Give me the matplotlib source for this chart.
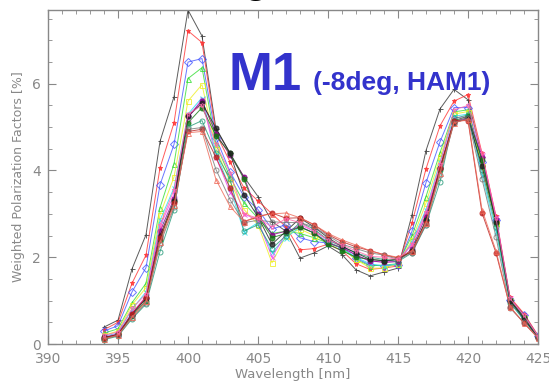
import matplotlib
matplotlib.use("Agg")
import matplotlib.pyplot as plt
from matplotlib.ticker import MultipleLocator

# wavelength grid [nm]
wavelength = list(range(394, 426))

# weighted polarization factors [%], one list per curve
s_black = [0.39, 0.55, 1.73, 2.52, 4.67, 5.70, 7.70, 7.10, 4.95, 4.40, 3.85, 3.40, 2.82, 2.60, 1.98, 2.10,
           2.26, 2.06, 1.71, 1.57, 1.66, 1.75, 2.98, 4.46, 5.42, 5.87, 5.63, 4.30, 2.90, 1.05, 0.68, 0.18]
s_red = [0.33, 0.50, 1.40, 2.05, 4.06, 5.10, 7.22, 6.95, 4.85, 4.20, 3.60, 3.30, 3.00, 2.70, 2.17, 2.20,
         2.30, 2.15, 1.85, 1.72, 1.75, 1.80, 2.79, 4.04, 5.03, 5.60, 5.75, 4.40, 2.95, 1.08, 0.70, 0.20]
s_blue = [0.30, 0.42, 1.20, 1.76, 3.67, 4.60, 6.50, 6.58, 4.75, 3.97, 3.40, 3.10, 2.65, 2.75, 2.45, 2.36,
          2.33, 2.22, 1.98, 1.82, 1.80, 1.82, 2.60, 3.72, 4.66, 5.45, 5.45, 4.20, 2.85, 1.02, 0.66, 0.18]
s_green = [0.25, 0.35, 0.95, 1.40, 3.14, 4.15, 6.12, 6.37, 4.60, 3.85, 3.25, 2.90, 2.55, 2.60, 2.55, 2.45,
           2.33, 2.20, 1.95, 1.80, 1.82, 1.85, 2.50, 3.40, 4.41, 5.35, 5.40, 4.15, 2.80, 1.00, 0.62, 0.17]
s_yellow = [0.20, 0.30, 0.90, 1.30, 2.98, 3.85, 5.60, 5.98, 4.50, 3.74, 3.10, 2.75, 1.87, 2.50, 2.65, 2.50,
            2.35, 2.22, 1.95, 1.75, 1.75, 1.85, 2.40, 3.25, 4.30, 5.30, 5.36, 4.10, 2.78, 0.98, 0.60, 0.16]
s_cyan = [0.18, 0.25, 0.80, 1.20, 2.85, 3.60, 5.30, 5.68, 4.40, 3.60, 2.59, 2.80, 2.12, 2.45, 2.70, 2.56,
          2.36, 2.20, 2.00, 1.85, 1.80, 1.85, 2.35, 3.10, 4.20, 5.25, 5.30, 3.90, 2.60, 0.95, 0.58, 0.16]
s_magenta = [0.16, 0.24, 0.72, 1.10, 2.70, 3.45, 5.20, 5.65, 4.30, 3.50, 3.00, 2.85, 2.00, 2.55, 2.75, 2.60,
             2.40, 2.25, 2.05, 1.90, 1.90, 1.90, 2.30, 3.00, 4.10, 5.20, 5.25, 4.36, 2.93, 1.05, 0.64, 0.17]
s_purple = [0.14, 0.22, 0.70, 1.05, 2.60, 3.35, 5.25, 5.60, 4.85, 4.35, 3.85, 3.00, 2.52, 2.60, 2.70, 2.56,
            2.33, 2.22, 2.05, 1.92, 1.88, 1.90, 2.20, 2.95, 4.05, 5.13, 5.22, 4.30, 2.85, 1.00, 0.60, 0.15]
s_dkgreen = [0.12, 0.20, 0.65, 1.00, 2.40, 3.30, 5.10, 5.45, 4.80, 4.40, 3.80, 2.95, 2.45, 2.55, 2.70, 2.56,
             2.30, 2.15, 2.00, 1.95, 1.92, 1.95, 2.15, 2.85, 4.00, 5.15, 5.25, 4.25, 2.80, 1.02, 0.62, 0.16]
s_teal = [0.10, 0.18, 0.58, 0.92, 2.13, 3.10, 5.00, 5.15, 4.40, 3.80, 2.60, 2.75, 2.20, 2.50, 2.80, 2.65,
          2.40, 2.25, 2.10, 2.00, 1.95, 1.90, 2.10, 2.75, 3.74, 5.20, 5.28, 4.00, 2.70, 0.95, 0.55, 0.15]
s_dark = [0.15, 0.22, 0.68, 1.05, 2.50, 3.30, 5.25, 5.55, 4.98, 4.40, 3.44, 2.93, 2.30, 2.60, 2.90, 2.70,
          2.45, 2.25, 2.10, 1.95, 1.92, 1.95, 2.15, 2.85, 4.06, 5.10, 5.20, 4.10, 2.82, 1.00, 0.58, 0.15]
s_dkred = [0.14, 0.22, 0.70, 1.08, 2.45, 3.25, 4.90, 4.95, 4.30, 3.60, 2.82, 2.93, 3.02, 2.90, 2.91, 2.75,
           2.52, 2.36, 2.24, 2.15, 2.06, 1.98, 2.12, 2.80, 4.06, 5.15, 5.15, 3.02, 2.10, 0.85, 0.48, 0.14]
s_grey = [0.12, 0.20, 0.60, 0.95, 2.30, 3.15, 4.95, 4.99, 4.02, 3.33, 2.80, 2.85, 2.82, 2.80, 2.80, 2.70,
          2.50, 2.30, 2.20, 2.10, 2.05, 1.95, 2.10, 2.75, 3.90, 5.10, 5.20, 3.80, 2.47, 0.83, 0.50, 0.14]
s_salmon = [0.12, 0.20, 0.62, 0.98, 2.35, 3.20, 4.87, 4.90, 3.79, 3.17, 2.82, 2.95, 3.00, 3.02, 2.91, 2.75,
            2.55, 2.40, 2.28, 2.15, 2.06, 2.00, 2.15, 2.80, 3.95, 5.10, 5.18, 3.10, 2.15, 0.86, 0.48, 0.14]
s_pink = [0.20, 0.28, 0.82, 1.15, 2.75, 3.55, 5.30, 5.50, 4.60, 3.95, 3.00, 2.90, 2.70, 2.89, 2.80, 2.60,
          2.40, 2.28, 2.15, 2.02, 2.00, 1.95, 2.30, 3.05, 4.15, 5.40, 5.50, 4.40, 2.90, 1.05, 0.66, 0.18]

# (data, colour, marker, filled)
curves = [
    (s_black, "#333333", "+", False),
    (s_red, "#ff3333", "*", True),
    (s_blue, "#4455ff", "D", False),
    (s_green, "#33dd33", "^", False),
    (s_yellow, "#eeee22", "s", False),
    (s_cyan, "#22ddee", "x", False),
    (s_magenta, "#ee44ee", "x", False),
    (s_purple, "#880088", "o", True),
    (s_dkgreen, "#117711", "o", True),
    (s_teal, "#229977", "o", False),
    (s_dark, "#222222", "o", True),
    (s_dkred, "#bb2222", "o", True),
    (s_grey, "#777777", "o", False),
    (s_salmon, "#ee6655", "^", False),
    (s_pink, "#ff66aa", "*", False),
]

fig = plt.figure(figsize=(5.49, 3.83), dpi=100)
ax = fig.add_axes([48 / 549, 39 / 383, 490 / 549, 334 / 383])

for data, col, mk, filled in curves:
    ax.plot(wavelength, data, "-", color=col, lw=0.7, alpha=0.8,
            marker=mk, ms=3.6, mew=0.7,
            mfc=col if filled else "none", mec=col)

ax.set_xlim(390, 425)
ax.set_ylim(0, 7.7)
ax.xaxis.set_major_locator(MultipleLocator(5))
ax.xaxis.set_minor_locator(MultipleLocator(1))
ax.yaxis.set_major_locator(MultipleLocator(2))
ax.yaxis.set_minor_locator(MultipleLocator(0.5))

grey = "#888888"
for sp in ax.spines.values():
    sp.set_color(grey)
    sp.set_linewidth(1.0)
ax.tick_params(which="both", direction="in", top=True, right=True, colors=grey,
               labelcolor="#888888", labelsize=10)
ax.tick_params(which="major", length=6)
ax.tick_params(which="minor", length=3)
ax.tick_params(axis="x", pad=6)
ax.tick_params(axis="y", pad=5)
ax.set_xlabel("Wavelength [nm]", color="#888888", fontsize=9.5, labelpad=1)
ax.set_ylabel("Weighted Polarization Factors [%]", color="#888888", fontsize=9, labelpad=5)

# overlaid slide annotation
blue = "#3333cc"
fig.text(228 / 549, 1 - 90 / 383, "M1", color=blue, fontsize=38, fontweight="bold",
         family="Liberation Sans", va="baseline", ha="left")
fig.text(313 / 549, 1 - 90 / 383, "(-8deg, HAM1)", color=blue, fontsize=19, fontweight="bold",
         family="Liberation Sans", va="baseline", ha="left")
# bottom of a cut-off slide title
fig.text(256 / 549, 1 + 9 / 383, "g", color="black", fontsize=34,
         family="Liberation Sans", va="baseline", ha="center")

fig.savefig("out.png", dpi=100)
